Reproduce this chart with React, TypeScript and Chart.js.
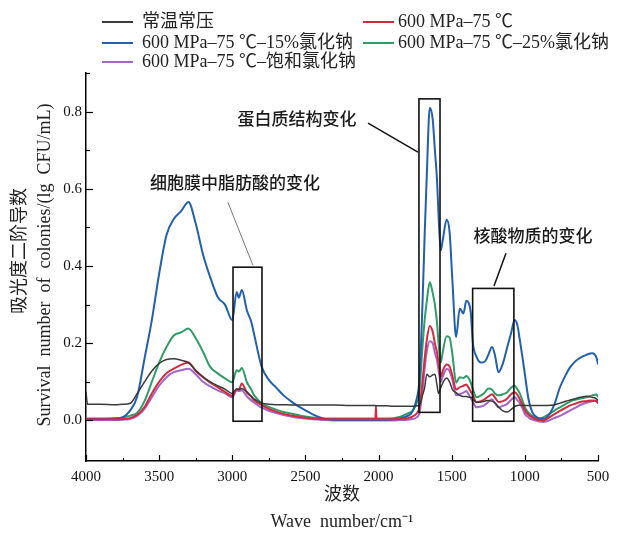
import React, { useEffect, useRef } from "react";
import { Chart, registerables } from "chart.js";

Chart.register(...registerables);

// ---------- data ----------
const wavenumbers = [
  4000, 3990, 3900, 3800, 3750, 3700, 3650, 3600, 3550, 3500,
  3450, 3400, 3350, 3300, 3250, 3200, 3150, 3100, 3050, 3000,
  2970, 2955, 2935, 2900, 2870, 2850, 2800, 2750, 2700, 2650,
  2600, 2550, 2500, 2450, 2400, 2350, 2300, 2200, 2100, 2022,
  2018, 2014, 1950, 1900, 1850, 1800, 1770, 1740, 1720, 1700,
  1685, 1670, 1650, 1630, 1615, 1600, 1590, 1575, 1560, 1535,
  1515, 1495, 1470, 1445, 1420, 1400, 1385, 1370, 1355, 1330,
  1300, 1275, 1250, 1225, 1205, 1180, 1150, 1120, 1095, 1070,
  1050, 1035, 1015, 1000, 975, 950, 925, 900, 875, 850,
  800, 760, 720, 690, 650, 620, 580, 540, 510, 500,
];

const normalValues = [
  0.075, 0.042, 0.042, 0.041, 0.042, 0.044, 0.07, 0.1, 0.128, 0.148,
  0.158, 0.16, 0.156, 0.15, 0.13, 0.113, 0.1, 0.09, 0.081, 0.07,
  0.082, 0.08, 0.083, 0.074, 0.062, 0.055, 0.045, 0.042, 0.041, 0.041,
  0.04, 0.04, 0.04, 0.04, 0.04, 0.04, 0.04, 0.039, 0.039, 0.039,
  0.036, 0.038, 0.038, 0.037, 0.037, 0.037, 0.037, 0.038, 0.04, 0.065,
  0.085, 0.12, 0.113, 0.118, 0.12, 0.09, 0.07, 0.085, 0.098, 0.11,
  0.1, 0.08, 0.072, 0.065, 0.062, 0.062, 0.06, 0.06, 0.055, 0.047,
  0.048, 0.05, 0.052, 0.05, 0.046, 0.035, 0.025, 0.022, 0.028, 0.036,
  0.039, 0.04, 0.039, 0.039, 0.039, 0.039, 0.039, 0.039, 0.039, 0.039,
  0.04, 0.045, 0.05, 0.053, 0.057, 0.06, 0.063, 0.06, 0.056, 0.052,
];

const hp75Values = [
  0.003, 0.003, 0.003, 0.003, 0.004, 0.006, 0.015, 0.035, 0.07, 0.1,
  0.122, 0.134, 0.144, 0.15, 0.128, 0.112, 0.098, 0.086, 0.074, 0.064,
  0.08, 0.08, 0.096, 0.072, 0.062, 0.052, 0.04, 0.03, 0.023, 0.017,
  0.013, 0.01, 0.007, 0.005, 0.004, 0.003, 0.003, 0.003, 0.003, 0.003,
  0.035, 0.003, 0.003, 0.003, 0.004, 0.006, 0.01, 0.018, 0.034, 0.1,
  0.16, 0.21, 0.245, 0.23, 0.2, 0.175, 0.15, 0.113, 0.13, 0.145,
  0.14, 0.115, 0.08, 0.086, 0.09, 0.093, 0.085, 0.075, 0.065, 0.047,
  0.05, 0.055, 0.062, 0.068, 0.06, 0.048, 0.05, 0.057, 0.068, 0.073,
  0.066, 0.055, 0.04, 0.026, 0.015, 0.008, 0.003, 0.001, 0.0, 0.004,
  0.016, 0.025, 0.033, 0.039, 0.044, 0.048, 0.05, 0.052, 0.05, 0.044,
];

const salt15Values = [
  0.004, 0.004, 0.004, 0.005, 0.008, 0.025, 0.062, 0.16, 0.26, 0.38,
  0.48, 0.522, 0.542, 0.566, 0.51, 0.43, 0.37, 0.32, 0.3, 0.26,
  0.333, 0.318, 0.338, 0.285, 0.255, 0.222, 0.14, 0.105, 0.085, 0.065,
  0.05, 0.037, 0.026, 0.016, 0.008, 0.003, 0.002, 0.002, 0.002, 0.002,
  0.002, 0.002, 0.002, 0.003, 0.006, 0.012, 0.022, 0.055, 0.11, 0.3,
  0.48, 0.64, 0.81, 0.78, 0.7, 0.62, 0.53, 0.44, 0.47, 0.52,
  0.49, 0.36, 0.216, 0.29, 0.277, 0.31, 0.305, 0.28, 0.2, 0.165,
  0.15, 0.152, 0.17, 0.19, 0.17, 0.125, 0.148, 0.19, 0.225, 0.26,
  0.245, 0.21, 0.16, 0.12, 0.055, 0.022, 0.01, 0.005, 0.004, 0.008,
  0.04, 0.086, 0.118, 0.138, 0.155, 0.163, 0.17, 0.174, 0.162, 0.145,
];

const salt25Values = [
  0.005, 0.005, 0.005, 0.006, 0.008, 0.012, 0.02, 0.05, 0.1, 0.15,
  0.19, 0.22, 0.228, 0.238, 0.213, 0.178, 0.138, 0.122, 0.109, 0.099,
  0.13, 0.127, 0.136, 0.099, 0.08, 0.065, 0.045, 0.035, 0.028, 0.022,
  0.018, 0.014, 0.01, 0.008, 0.006, 0.005, 0.005, 0.005, 0.005, 0.005,
  0.005, 0.005, 0.005, 0.006, 0.01, 0.018, 0.024, 0.045, 0.078, 0.19,
  0.26, 0.31, 0.358, 0.33, 0.3, 0.25, 0.2, 0.15, 0.18, 0.218,
  0.215, 0.17, 0.098, 0.112, 0.11, 0.115, 0.11, 0.098, 0.08, 0.06,
  0.065, 0.072, 0.083, 0.08, 0.07, 0.065, 0.068, 0.073, 0.085, 0.09,
  0.08, 0.07, 0.05, 0.034, 0.02, 0.012, 0.007, 0.005, 0.008, 0.013,
  0.025, 0.034, 0.043, 0.049, 0.054, 0.057, 0.06, 0.065, 0.067, 0.06,
];

const saturatedValues = [
  0.001, 0.001, 0.001, 0.001, 0.002, 0.004, 0.012, 0.03, 0.06, 0.09,
  0.112, 0.125, 0.13, 0.134, 0.12, 0.1, 0.088, 0.078, 0.07, 0.06,
  0.078, 0.076, 0.078, 0.062, 0.052, 0.046, 0.033, 0.025, 0.019, 0.014,
  0.01, 0.007, 0.005, 0.003, 0.002, 0.001, 0.0, 0.0, 0.0, 0.0,
  0.0, 0.0, 0.0, 0.0, 0.001, 0.002, 0.004, 0.008, 0.02, 0.075,
  0.135, 0.18, 0.205, 0.2, 0.175, 0.155, 0.13, 0.1, 0.115, 0.133,
  0.128, 0.105, 0.065, 0.068, 0.072, 0.076, 0.068, 0.058, 0.048, 0.034,
  0.036, 0.04, 0.048, 0.055, 0.045, 0.034, 0.038, 0.043, 0.053, 0.06,
  0.052, 0.045, 0.03, 0.017, 0.008, 0.002, 0.0, -0.003, -0.004, -0.002,
  0.006, 0.012, 0.02, 0.026, 0.034, 0.04, 0.046, 0.05, 0.052, 0.043,
];

const seriesLabels = [
  "常温常压",
  "600 MPa–75 ℃",
  "600 MPa–75 ℃–15%氯化钠",
  "600 MPa–75 ℃–25%氯化钠",
  "600 MPa–75 ℃–饱和氯化钠",
];
const seriesValues = [normalValues, hp75Values, salt15Values, salt25Values, saturatedValues];
const seriesColors = ["#3a3a3a", "#d42a40", "#2260ae", "#2f9c66", "#a465c8"];
const seriesWidths = [1.5, 2, 2, 2, 2];

const xTickValues = [4000, 3500, 3000, 2500, 2000, 1500, 1000, 500];
const xMinorTicks = [3750, 3250, 2750, 2250, 1750, 1250, 750];
const yTickValues = [0, 0.2, 0.4, 0.6, 0.8];
const yMinorTicks = [0.1, 0.3, 0.5, 0.7, 0.9];

const yTitleLines = ["吸光度二阶导数", "Survival  number  of  colonies/(lg  CFU/mL)"];
const xTitleLines = ["波数", "Wave  number/cm⁻¹"];

// annotation boxes [x1, x2, y1, y2] in data units
const boxes = [
  [2995, 2797, -0.002, 0.397],
  [1724, 1580, 0.021, 0.833],
  [1357, 1075, -0.002, 0.342],
];
const noteTexts = ["细胞膜中脂肪酸的变化", "蛋白质结构变化", "核酸物质的变化"];
const notePositions = [
  [2982, 0.615],
  [2558, 0.781],
  [945, 0.48],
];
const leaderLines = [
  [3030, 0.565, 2859, 0.402],
  [2072, 0.77, 1731, 0.695],
  [1129, 0.433, 1211, 0.348],
];

const SERIF = '"Liberation Serif", "Times New Roman", "Noto Sans CJK SC", serif';
const SANS_CJK = '"Noto Sans CJK SC", "Noto Sans", sans-serif';

const overlayPlugin = {
  id: "overlay",
  afterDraw(chart: any) {
    const ctx = chart.ctx;
    const xs = chart.scales.x;
    const ys = chart.scales.y;
    const area = chart.chartArea;
    ctx.save();
    // inward ticks
    ctx.strokeStyle = "#000";
    ctx.lineWidth = 1.2;
    const drawX = (v: number, len: number) => {
      const px = Math.round(xs.getPixelForValue(v)) + 0.5;
      ctx.beginPath();
      ctx.moveTo(px, area.bottom);
      ctx.lineTo(px, area.bottom - len);
      ctx.stroke();
    };
    const drawY = (v: number, len: number) => {
      const py = Math.round(ys.getPixelForValue(v)) + 0.5;
      ctx.beginPath();
      ctx.moveTo(area.left, py);
      ctx.lineTo(area.left + len, py);
      ctx.stroke();
    };
    xTickValues.forEach((v) => drawX(v, 6));
    xMinorTicks.forEach((v) => drawX(v, 3));
    yTickValues.forEach((v) => drawY(v, 7));
    yMinorTicks.forEach((v) => drawY(v, 4));

    // boxes
    ctx.strokeStyle = "#111";
    ctx.lineWidth = 1.6;
    boxes.forEach(([x1, x2, y1, y2]) => {
      const a = xs.getPixelForValue(x1);
      const b = xs.getPixelForValue(x2);
      const c = ys.getPixelForValue(y2);
      const d = ys.getPixelForValue(y1);
      ctx.strokeRect(Math.min(a, b), c, Math.abs(b - a), d - c);
    });

    // leader lines
    leaderLines.forEach(([x1, y1, x2, y2], i) => {
      ctx.strokeStyle = i === 0 ? "#777" : "#111";
      ctx.lineWidth = i === 0 ? 1 : 1.5;
      ctx.beginPath();
      ctx.moveTo(xs.getPixelForValue(x1), ys.getPixelForValue(y1));
      ctx.lineTo(xs.getPixelForValue(x2), ys.getPixelForValue(y2));
      ctx.stroke();
    });

    // note texts
    ctx.fillStyle = "#1a1a1a";
    ctx.font = `500 17px ${SANS_CJK}`;
    ctx.textAlign = "center";
    ctx.textBaseline = "middle";
    noteTexts.forEach((t, i) => {
      const [x, y] = notePositions[i];
      ctx.fillText(t, xs.getPixelForValue(x), ys.getPixelForValue(y));
    });

    // y-axis title (two rotated lines)
    ctx.fillStyle = "#222";
    ctx.font = `18px ${SERIF}`;
    const yTitlePos = [
      [20, 251],
      [45, 265],
    ];
    yTitleLines.forEach((t, i) => {
      ctx.save();
      ctx.translate(yTitlePos[i][0], yTitlePos[i][1]);
      ctx.rotate(-Math.PI / 2);
      ctx.fillText(t, 0, 0);
      ctx.restore();
    });

    // legend
    const colX = [102, 363];
    const rowY = [22, 43, 62];
    const order = [
      [0, 0, 0],
      [1, 1, 0],
      [2, 0, 1],
      [3, 1, 1],
      [4, 0, 2],
    ];
    ctx.font = `18px ${SERIF}`;
    ctx.textAlign = "left";
    ctx.textBaseline = "middle";
    order.forEach(([si, c, r]) => {
      const x = colX[c];
      const y = rowY[r];
      ctx.strokeStyle = seriesColors[si];
      ctx.lineWidth = 2;
      ctx.beginPath();
      ctx.moveTo(x, y);
      ctx.lineTo(x + 31, y);
      ctx.stroke();
      ctx.fillStyle = "#222";
      ctx.fillText(seriesLabels[si], x + (c === 0 ? 40 : 35), y);
    });
    ctx.restore();
  },
};

export default function App() {
  const ref = useRef<HTMLCanvasElement | null>(null);
  useEffect(() => {
    document.body.style.margin = "0";
    const canvas = ref.current;
    if (!canvas) return;
    const datasets = seriesLabels.map((label, si) => ({
      label,
      data: wavenumbers.map((w, i) => ({ x: w, y: seriesValues[si][i] })),
      borderColor: seriesColors[si],
      backgroundColor: seriesColors[si],
      borderWidth: seriesWidths[si],
      pointRadius: 0,
      cubicInterpolationMode: "monotone" as const,
      fill: false,
    }));
    const chart = new Chart(canvas, {
      type: "line",
      data: { datasets },
      options: {
        animation: false,
        responsive: false,
        devicePixelRatio: 1,
        layout: { padding: { top: 73, right: 22, left: 0, bottom: 0 } },
        plugins: { legend: { display: false }, tooltip: { enabled: false } },
        scales: {
          x: {
            type: "linear",
            reverse: true,
            min: 500,
            max: 4000,
            afterBuildTicks: (s: any) => {
              s.ticks = xTickValues.map((v) => ({ value: v }));
            },
            afterFit: (s: any) => {
              s.height = 75;
            },
            grid: { display: false, drawTicks: false },
            border: { display: true, color: "#000", width: 1.5 },
            ticks: {
              color: "#111",
              padding: 7,
              maxRotation: 0,
              autoSkip: false,
              font: { family: SERIF, size: 15 },
              callback: (v: any) => String(v),
            },
            title: {
              display: true,
              text: xTitleLines,
              color: "#222",
              font: { family: SERIF, size: 18, lineHeight: 1.5 },
              padding: { top: 0, bottom: 0 },
            },
          },
          y: {
            type: "linear",
            min: -0.105,
            max: 0.9,
            afterBuildTicks: (s: any) => {
              s.ticks = yTickValues.map((v) => ({ value: v }));
            },
            afterFit: (s: any) => {
              s.width = 86;
            },
            grid: { display: false, drawTicks: false },
            border: { display: true, color: "#000", width: 1.5 },
            ticks: {
              color: "#111",
              padding: 4,
              autoSkip: false,
              font: { family: SERIF, size: 15 },
              callback: (v: any) => Number(v).toFixed(1),
            },
            title: { display: false },
          },
        },
      },
      plugins: [overlayPlugin],
    });
    return () => chart.destroy();
  }, []);
  return (
    <div style={{ width: 620, height: 536 }}>
      <canvas ref={ref} width={620} height={536} style={{ display: "block", width: 620, height: 536 }} />
    </div>
  );
}
